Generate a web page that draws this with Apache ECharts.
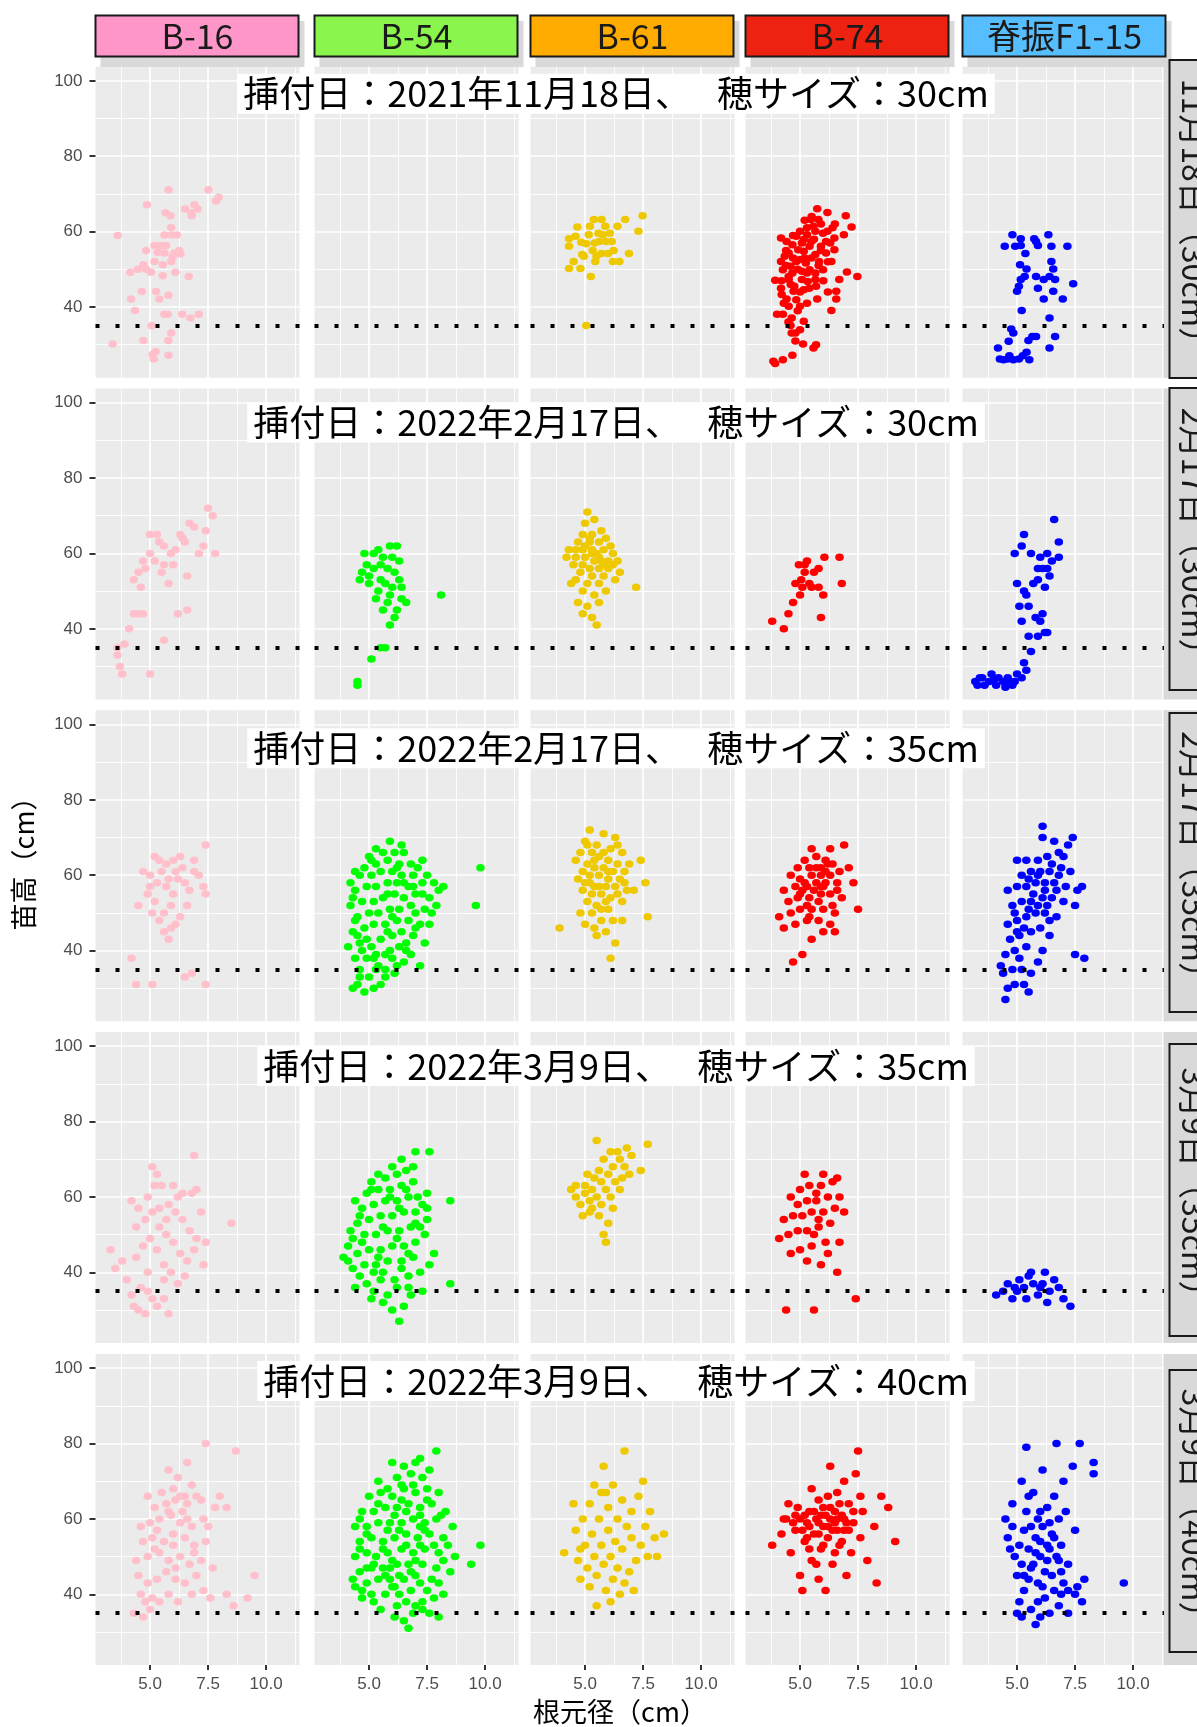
<!DOCTYPE html>
<html>
<head>
<meta charset="utf-8">
<script src="https://cdn.jsdelivr.net/npm/echarts@6/dist/echarts.min.js"></script>
<style>
  html, body { margin: 0; padding: 0; background: #fff; }
  #chart { width: 1197px; height: 1727px; }
</style>
</head>
<body>
<div id="chart"></div>
<script>
// facets
const cultivars = ["B-16", "B-54", "B-61", "B-74", "脊振F1-15"];
const rowLabels = ["11月18日（30cm）", "2月17日（30cm）", "2月17日（35cm）", "3月9日（35cm）", "3月9日（40cm）"];
const rowTitles = [
  "挿付日：2021年11月18日、　 穂サイズ：30cm",
  "挿付日：2022年2月17日、　 穂サイズ：30cm",
  "挿付日：2022年2月17日、　 穂サイズ：35cm",
  "挿付日：2022年3月9日、　 穂サイズ：35cm",
  "挿付日：2022年3月9日、　 穂サイズ：40cm",
];
const pointColors = ["#FFC0CB", "#00FF00", "#EEC900", "#FF0000", "#0000FF"];
const stripColors = ["#FF96CA", "#8AF54C", "#FFAB00", "#EE2211", "#56BEFF"];

// axes
const xRange = [2.65, 11.44];
const yRange = [21.25, 103.75];
const xMajor = [5, 7.5, 10];
const xMinor = [3.75, 6.25, 8.75, 11.25];
const yMajor = [40, 60, 80, 100];
const yMinor = [30, 50, 70, 90];
const cutoff = 35;

// [根元径, 苗高]
const r1_b16 = [[3.39,30.2],[3.61,59.0],[4.15,49.2],[4.18,42.1],[4.35,39.1],[4.47,50.0],[4.64,44.1],[4.71,51.2],[4.71,31.1],[4.83,50.0],[4.87,67.1],[4.83,55.0],[5.04,49.2],[5.07,35.0],[5.11,27.4],[5.16,26.2],[5.24,28.2],[5.19,56.3],[5.19,52.1],[5.26,44.1],[5.33,54.5],[5.40,42.1],[5.47,56.3],[5.55,48.3],[5.55,51.2],[5.62,59.1],[5.62,38.1],[5.62,54.3],[5.69,56.3],[5.66,65.0],[5.76,38.1],[5.79,43.1],[5.80,71.1],[5.79,31.1],[5.79,27.2],[5.88,64.2],[5.91,61.1],[5.91,52.1],[5.93,59.1],[5.91,33.1],[5.98,53.4],[6.05,54.3],[6.09,49.2],[6.16,59.1],[6.26,55.0],[6.31,54.1],[6.38,38.1],[6.51,66.0],[6.67,48.1],[6.74,37.1],[6.77,65.0],[6.80,64.2],[6.91,67.1],[7.05,66.0],[7.10,38.1],[7.51,71.1],[7.84,68.1],[7.96,69.1]];
const r1_b54 = [];
const r1_b61 = [[4.31,58.1],[4.31,56.1],[4.31,50.2],[4.51,52.1],[4.67,61.2],[4.80,50.2],[4.84,57.2],[4.88,53.9],[5.05,56.8],[5.05,35.1],[5.16,59.2],[5.21,61.4],[5.25,48.1],[5.38,63.2],[5.41,57.0],[5.44,52.1],[5.49,53.5],[5.61,57.4],[5.71,63.2],[5.71,54.2],[5.77,59.2],[5.87,61.4],[5.90,57.4],[5.99,54.2],[6.07,59.6],[6.20,52.1],[6.23,55.0],[6.40,61.4],[6.48,52.1],[6.73,63.2],[6.89,54.2],[7.30,60.1],[7.48,64.2],[4.59,58.8],[5.58,59.6],[5.33,55.0],[4.95,53.5],[6.15,57.4]];
const r1_b74 = [[3.85,25.6],[3.93,25.0],[4.26,26.0],[4.67,27.2],[5.13,30.2],[5.58,29.1],[5.69,30.0],[4.64,33.1],[4.80,33.1],[4.59,35.1],[4.64,37.1],[5.16,36.2],[4.01,38.1],[4.26,38.1],[4.51,40.2],[5.00,40.2],[4.42,42.1],[4.84,41.9],[4.21,43.3],[4.72,44.2],[4.18,45.0],[5.16,44.6],[3.93,47.1],[4.51,47.3],[5.08,47.3],[5.69,45.5],[5.66,47.3],[5.74,42.1],[6.56,42.1],[6.56,44.2],[6.69,47.3],[6.35,39.1],[7.02,49.3],[7.47,48.1],[4.26,49.9],[4.67,49.0],[5.41,49.9],[5.99,49.9],[4.18,52.1],[4.84,52.1],[5.25,51.7],[5.82,52.1],[6.35,52.1],[4.51,54.3],[5.16,54.8],[5.66,53.9],[6.12,54.3],[6.48,55.2],[4.67,56.5],[5.08,57.0],[5.49,57.4],[6.12,57.4],[4.18,58.3],[4.84,58.8],[5.30,59.2],[5.66,60.1],[6.18,60.1],[6.48,58.3],[6.89,59.2],[7.22,61.2],[5.58,61.4],[5.79,63.2],[5.46,63.2],[5.74,66.1],[6.18,65.1],[6.97,64.2],[4.51,48.1],[5.00,52.6],[5.41,56.1],[4.34,53.5],[4.75,45.5],[5.33,46.8],[4.92,55.2],[5.16,57.9],[5.49,53.0],[5.90,56.1],[4.59,50.8],[5.08,49.5],[5.66,49.0],[4.42,57.4],[5.00,60.1],[5.99,59.6],[4.4,55],[4.7,53],[5.2,53],[5.6,58],[5.9,55],[6.3,57],[4.9,50],[5.3,49],[5.8,51],[6.2,52],[4.4,51],[4.7,59],[5.3,61],[5.9,62],[6.4,61],[4.6,46],[5.0,44],[5.4,45],[4.3,41],[4.9,39],[5.3,41],[4.5,36],[5.0,34],[4.8,31],[6.0,47],[6.2,44],[5.5,64],[6.5,62],[5.2,63],[4.2,47]];
const r1_f15 = [[4.18,29.1],[4.26,26.2],[4.42,26.0],[4.59,26.2],[4.67,27.1],[4.84,26.0],[5.08,26.2],[5.25,27.1],[5.41,28.0],[5.53,26.0],[4.64,30.9],[4.84,33.1],[4.75,34.2],[5.49,31.1],[5.66,32.2],[5.82,32.2],[6.40,29.1],[6.64,32.2],[6.40,37.1],[5.20,39.1],[6.15,42.1],[6.97,42.1],[5.00,44.2],[5.08,45.5],[5.90,45.0],[6.56,44.2],[5.16,47.3],[5.33,48.1],[5.82,48.1],[6.15,47.3],[6.40,48.1],[6.64,47.3],[7.42,46.2],[5.41,50.1],[6.56,50.1],[5.13,51.2],[6.48,52.1],[5.36,54.2],[4.47,56.1],[4.92,56.1],[5.16,56.3],[5.90,56.3],[6.48,56.1],[7.17,56.1],[4.80,59.2],[5.16,58.1],[5.74,58.1],[6.35,59.2],[5.82,57.4]];

const r2_b16 = [[3.6,33],[3.7,30],[3.8,28],[3.6,35],[3.9,36],[4.1,40],[4.3,44],[4.5,44],[4.7,44],[4.3,53],[4.5,55],[4.6,51],[4.8,56],[4.7,58],[5.0,60],[5.2,58],[5.0,65],[5.3,65],[5.4,63],[5.5,55],[5.6,57],[5.6,62],[5.8,52],[5.9,60],[6.0,57],[6.1,61],[6.3,65],[6.4,64],[6.5,63],[6.6,54],[6.7,68],[6.9,67],[7.1,60],[7.3,62],[7.4,66],[7.5,72],[7.7,70],[7.8,60],[6.2,44],[5.6,37],[5.0,28],[6.6,45]];
const r2_b54 = [[4.5,25],[4.5,26],[5.1,32],[5.5,35],[5.7,35],[5.9,41],[6.1,43],[6.2,45],[6.6,47],[6.4,48],[5.8,47],[5.4,50],[5.0,52],[4.6,53],[4.7,55],[5.2,56],[5.5,57],[5.8,56],[6.1,55],[6.3,58],[6.0,59],[5.6,59],[5.2,60],[4.8,60],[5.4,61],[5.9,62],[6.2,62],[5.0,54],[5.7,52],[6.0,51],[5.3,48],[5.9,49],[6.3,53],[4.9,57],[5.5,53],[6.4,51],[5.6,45],[8.1,49]];
const r2_b61 = [[5.1,71],[5.4,69],[5.0,68],[5.7,66],[4.9,65],[5.3,65],[5.9,64],[4.7,63],[5.2,63],[5.6,63],[6.1,62],[4.3,61],[4.6,61],[4.9,61],[5.3,61],[5.5,60],[5.8,61],[6.2,60],[4.2,59],[4.6,59],[5.0,59],[5.4,58],[5.7,58],[6.0,58],[6.4,58],[4.5,57],[4.9,57],[5.2,56],[5.6,56],[6.0,56],[5.3,60],[5.6,59],[5.0,62],[4.8,55],[5.3,54],[5.8,54],[6.5,55],[4.6,53],[5.1,52],[5.6,52],[4.9,50],[5.4,49],[5.9,50],[7.2,51],[4.7,47],[5.1,46],[5.6,47],[4.9,44],[5.3,43],[5.5,41],[6.3,53],[4.4,52],[5.8,57],[5.2,64],[6.2,57]];
const r2_b74 = [[3.8,42],[4.3,40],[4.5,44],[4.7,47],[4.8,52],[5.0,49],[5.2,55],[4.95,57],[5.3,58],[5.2,57],[5.8,56],[5.8,51],[6.0,49],[5.9,43],[6.05,59],[6.8,52],[6.7,59],[5.4,52],[5.05,53],[5.6,55],[5.5,51],[5.1,51]];
const r2_f15 = [[3.2,26],[3.3,25],[3.5,27],[3.6,25],[3.8,26],[3.9,28],[4.1,25],[4.2,27],[4.4,26],[4.5,24.5],[4.6,27],[4.8,25],[4.9,26],[5.0,28],[5.2,27],[5.4,29],[3.4,27],[4.0,26.5],[4.7,26],[5.3,31],[5.6,34],[5.5,38],[5.9,38],[6.2,39],[5.2,42],[5.8,43],[6.0,42],[6.3,39],[5.1,46],[5.5,46],[6.1,44],[5.3,50],[5.0,52],[5.7,52],[6.2,51],[6.4,54],[5.9,56],[6.3,56],[6.5,58],[4.9,60],[5.6,60],[6.0,59],[6.3,60],[6.8,59],[6.1,56],[6.8,63],[5.2,62],[5.3,65],[6.6,69],[5.9,53],[5.4,49]];

const r3_b16 = [[4.2,38],[4.4,31],[5.1,31],[6.8,34],[7.4,31],[6.5,33],[4.5,52],[4.9,55],[5.1,50],[5.2,53],[5.4,48],[5.6,45],[5.8,43],[5.6,50],[5.9,52],[6.0,55],[5.7,57],[5.3,58],[5.0,60],[5.5,61],[6.2,59],[6.5,58],[6.7,56],[6.9,61],[7.1,60],[7.3,57],[6.4,62],[6.0,64],[5.4,64],[5.7,63],[5.2,65],[6.3,65],[6.9,64],[7.4,68],[5.0,57],[4.7,61],[6.1,61],[5.8,59],[6.6,52],[7.4,55],[6.3,49],[5.9,46],[6.1,47]];
const r3_b54 = [[4.3,30],[4.5,31],[4.8,29],[5.2,30],[5.5,31],[5.0,33],[4.6,35],[5.7,35],[6.1,34],[6.5,37],[4.4,38],[4.9,38],[5.3,39],[5.9,40],[6.3,41],[6.8,39],[7.2,36],[4.6,42],[5.1,41],[5.5,43],[6.0,44],[6.4,45],[6.9,44],[4.3,45],[4.8,46],[5.2,47],[5.7,47],[6.2,48],[6.7,48],[7.2,47],[4.5,49],[5.0,50],[5.4,50],[5.9,51],[6.3,51],[6.8,52],[7.4,51],[4.2,52],[4.7,53],[5.2,53],[5.6,54],[6.1,55],[6.5,54],[7.0,55],[7.6,54],[4.4,56],[4.9,57],[5.3,57],[5.8,58],[6.2,58],[6.7,57],[7.3,58],[8.0,56],[4.6,60],[5.1,60],[5.5,61],[6.0,61],[6.4,60],[6.9,60],[7.5,60],[5.3,63],[5.8,64],[6.3,63],[6.8,63],[5.6,66],[6.1,66],[5.9,69],[7.1,62],[9.6,52],[9.8,62],[4.9,43],[5.4,36],[6.6,42],[7.7,50],[8.2,57],[5.1,64],[4.4,61],[7.0,50],[6.0,38],[6.5,66],[5.7,33],[4.7,40],[4.6,33],[5.3,35],[6.2,36],[4.1,41],[5.7,39],[6.6,40],[7.4,42],[4.5,44],[5.8,45],[7.0,46],[7.6,47],[4.4,48],[6.0,49],[7.9,52],[4.3,54],[5.8,55],[7.3,55],[4.2,58],[6.5,58],[7.8,58],[4.8,62],[6.2,62],[7.3,64],[5.3,67],[6.4,68],[5.2,38],[6.9,57],[5.0,65]];
const r3_b61 = [[3.9,46],[5.2,72],[5.8,71],[6.3,70],[5.0,69],[5.5,68],[6.1,67],[4.8,66],[5.3,66],[6.6,66],[5.6,65],[6.0,64],[4.6,64],[5.1,63],[6.4,63],[6.9,63],[5.4,62],[5.8,62],[4.9,61],[6.2,61],[6.7,61],[5.2,60],[5.6,60],[6.0,59],[6.5,59],[4.7,59],[5.0,58],[5.4,57],[5.9,57],[6.3,57],[6.8,56],[4.9,56],[5.3,55],[5.7,55],[6.1,54],[6.6,53],[5.1,53],[5.5,52],[6.0,51],[4.8,50],[5.3,50],[5.7,48],[6.2,48],[6.6,48],[5.9,45],[5.5,44],[6.3,42],[6.1,38],[7.7,49],[7.6,58],[7.4,64],[7.1,56],[5.0,47],[5.2,58],[5.6,57],[6.0,61],[5.4,64],[5.8,66],[5.9,53],[5.4,46],[6.4,55],[5.1,68],[6.4,68],[5.7,51],[6.7,58]];
const r3_b74 = [[4.7,37],[5.1,39],[5.5,43],[6.0,45],[6.5,45],[4.3,46],[4.8,47],[5.3,48],[5.8,48],[4.1,49],[4.6,50],[5.0,51],[5.5,51],[6.0,51],[6.4,52],[4.5,53],[4.9,54],[5.4,54],[5.9,55],[6.3,55],[6.8,54],[4.3,56],[4.8,57],[5.3,57],[5.7,58],[6.1,58],[6.6,58],[5.0,59],[5.5,60],[5.9,60],[6.3,60],[4.9,62],[5.4,62],[5.9,62],[6.4,63],[5.2,64],[5.7,65],[6.1,64],[5.5,67],[6.3,67],[6.9,68],[7.3,58],[7.1,62],[7.5,51],[6.7,61],[5.9,57],[5.1,56],[4.6,60],[6.3,47],[5.2,58],[5.6,56],[6.0,57],[5.7,62],[6.1,61],[5.3,52],[5.8,53],[6.6,56],[5.0,55],[6.2,63],[5.4,49],[6.5,50]];
const r3_f15 = [[4.5,27],[4.6,30],[4.9,31],[5.3,31],[5.5,29],[4.4,34],[4.8,35],[5.2,35],[5.6,34],[5.9,37],[6.1,40],[4.5,39],[4.9,40],[5.4,41],[4.7,43],[5.1,44],[5.6,45],[6.0,46],[6.4,44],[4.6,47],[5.0,48],[5.4,49],[5.8,50],[6.2,50],[6.7,49],[4.8,52],[5.2,53],[5.6,53],[6.1,54],[6.5,54],[7.0,53],[4.6,56],[5.0,57],[5.4,57],[5.8,58],[6.2,58],[6.6,58],[7.1,57],[5.2,60],[5.6,61],[6.0,61],[6.4,61],[6.9,62],[7.3,61],[5.4,64],[5.9,64],[6.3,65],[6.8,66],[5.0,64],[6.6,69],[7.2,68],[7.4,70],[6.1,73],[7.6,56],[7.5,52],[7.8,57],[7.9,38],[7.5,39],[4.3,36],[5.1,38],[6.4,48],[5.7,55],[5.0,45],[5.5,51],[5.9,52],[6.3,52],[6.7,56],[5.5,59],[5.9,60],[6.8,60],[4.9,50],[6.5,63],[6.1,70],[7.0,65],[5.3,46],[6.2,56]];

const r4_b16 = [[3.3,46],[3.5,41],[3.8,43],[4.0,38],[4.2,34],[4.3,31],[4.5,30],[4.8,29],[4.6,36],[4.9,40],[5.1,33],[5.3,31],[5.6,33],[5.8,29],[4.4,44],[4.7,47],[5.0,49],[5.3,46],[5.6,42],[5.9,40],[6.2,37],[6.5,39],[4.4,52],[4.8,54],[5.1,56],[5.4,52],[5.7,50],[6.0,48],[6.3,45],[6.6,43],[6.9,46],[4.5,57],[4.9,60],[5.2,63],[5.5,63],[5.8,58],[6.1,56],[6.4,54],[6.7,51],[7.0,49],[5.1,68],[5.3,66],[6.0,63],[6.4,61],[6.8,61],[6.9,71],[7.2,56],[7.4,48],[7.3,42],[8.5,53],[5.7,54],[4.2,59],[5.6,38],[4.9,35],[7.0,62],[6.2,60],[5.4,57]];
const r4_b54 = [[6.3,27],[6.0,30],[5.6,32],[6.5,31],[5.1,33],[6.8,34],[7.3,35],[8.5,37],[4.4,36],[4.9,37],[5.5,38],[6.1,38],[6.7,39],[7.2,40],[4.3,41],[4.8,42],[5.3,42],[5.8,43],[6.4,43],[6.9,44],[4.5,45],[5.0,46],[5.5,46],[6.0,47],[6.5,47],[7.0,48],[4.3,49],[4.8,50],[5.3,50],[5.8,51],[6.3,51],[6.8,52],[7.2,52],[4.5,53],[5.0,54],[5.5,55],[6.0,55],[6.5,56],[7.0,56],[4.7,57],[5.2,58],[5.7,59],[6.2,59],[6.7,60],[7.3,58],[4.9,61],[5.4,62],[5.9,62],[6.4,63],[6.9,64],[5.1,64],[5.7,65],[6.2,66],[6.6,67],[6.9,68],[7.0,72],[7.6,72],[8.5,59],[7.5,54],[7.8,45],[4.1,47],[5.6,40],[6.2,36],[7.5,61],[3.9,44],[4.6,39],[5.2,40],[6.4,41],[7.6,42],[4.1,43],[5.4,44],[6.7,45],[4.7,48],[6.2,49],[7.4,50],[4.2,51],[5.6,52],[7.0,53],[4.6,55],[6.3,57],[7.5,57],[4.4,59],[5.9,60],[7.1,60],[5.1,62],[6.6,62],[5.4,66],[6.0,68],[6.4,70],[5.8,34],[6.7,36],[5.2,35]];
const r4_b61 = [[4.4,62],[4.6,60],[4.8,58],[5.0,61],[5.2,59],[5.0,63],[5.3,62],[5.5,60],[5.7,58],[5.4,65],[5.7,64],[5.9,62],[6.1,60],[5.6,67],[6.0,66],[6.3,64],[6.5,62],[6.2,68],[6.5,70],[6.7,68],[6.9,66],[7.0,71],[6.1,72],[5.8,70],[5.5,75],[6.8,73],[7.4,67],[7.7,74],[6.4,72],[5.2,56],[5.6,55],[6.0,53],[5.8,50],[5.9,48],[4.6,63],[5.1,66],[6.6,65],[5.3,57],[4.9,55],[6.2,57]];
const r4_b74 = [[4.4,30],[5.6,30],[7.4,33],[6.6,40],[5.9,42],[5.3,43],[4.6,45],[5.0,46],[5.5,47],[6.1,48],[6.7,48],[4.1,49],[4.5,50],[4.9,51],[5.3,51],[5.8,52],[6.3,53],[4.3,54],[4.7,55],[5.1,55],[5.5,56],[6.0,56],[6.5,57],[4.9,58],[5.3,59],[5.7,59],[6.2,60],[6.7,60],[5.0,62],[5.4,63],[5.9,63],[6.4,64],[5.2,66],[6.0,66],[6.6,65],[5.7,61],[5.6,50],[6.2,45],[6.9,56],[4.6,60],[5.8,54]];
const r4_f15 = [[4.1,34],[4.4,35],[4.6,37],[4.8,33],[5.0,35],[5.1,38],[5.3,36],[5.4,33],[5.6,40],[5.7,37],[5.9,34],[6.0,36],[6.2,40],[6.3,32],[6.4,35],[6.6,38],[6.8,36],[7.0,33],[7.3,31],[6.1,37],[5.5,39],[4.9,36]];

const r5_b16 = [[4.3,35],[4.7,34],[5.0,36],[5.4,38],[4.6,40],[5.1,39],[5.8,40],[6.2,38],[6.8,40],[7.3,41],[7.6,39],[8.3,40],[8.6,37],[9.2,39],[9.5,45],[4.5,45],[4.9,43],[5.3,44],[5.7,46],[6.1,44],[6.5,43],[7.0,45],[4.4,49],[4.9,50],[5.4,51],[5.8,49],[6.3,50],[6.7,48],[7.2,49],[7.7,47],[4.7,54],[5.1,55],[5.6,54],[6.0,56],[6.5,55],[6.9,53],[7.4,54],[4.6,58],[5.0,59],[5.4,60],[5.9,61],[6.3,59],[6.8,58],[7.3,60],[7.8,63],[5.2,63],[5.7,64],[6.1,65],[6.6,64],[7.0,66],[5.5,67],[6.0,68],[6.5,66],[7.2,65],[8.0,66],[6.2,71],[5.8,73],[6.8,69],[7.4,80],[8.7,78],[6.6,75],[8.3,63],[4.9,66],[6.4,62],[5.3,57],[6.9,51],[5.8,62],[6.3,66],[6.0,53],[5.2,52],[6.6,60],[7.5,58],[6.1,47],[4.8,38]];
const r5_b54 = [[6.7,31],[6.5,33],[6.9,35],[7.6,35],[8.0,34],[5.5,36],[6.2,37],[7.0,37],[7.3,38],[4.7,39],[5.1,40],[5.7,40],[6.3,40],[6.8,41],[7.5,41],[8.2,40],[4.4,42],[4.9,43],[5.4,44],[5.9,44],[6.5,44],[7.0,45],[7.7,44],[4.6,46],[5.1,47],[5.6,47],[6.2,48],[6.7,48],[7.3,48],[7.9,47],[8.5,46],[9.4,48],[4.4,50],[4.9,51],[5.3,50],[5.8,51],[6.4,52],[6.9,51],[7.4,52],[8.0,51],[8.7,50],[4.6,54],[5.1,55],[5.6,54],[6.1,55],[6.6,56],[7.1,55],[7.6,56],[8.2,55],[9.8,53],[4.4,58],[4.9,58],[5.4,59],[5.9,59],[6.4,59],[6.9,60],[7.4,59],[7.9,60],[8.6,58],[4.7,62],[5.2,62],[5.7,63],[6.2,63],[6.7,64],[7.2,63],[7.7,64],[8.3,62],[5.0,66],[5.5,67],[6.0,66],[6.5,68],[7.0,67],[7.5,68],[8.0,67],[5.4,70],[6.2,71],[6.8,72],[7.3,71],[6.5,74],[7.0,75],[7.9,78],[6.4,69],[5.8,57],[6.3,45],[7.8,53],[6.0,42],[6.6,62],[5.2,48],[7.2,58],[6.1,34],[7.3,36],[5.2,38],[6.6,38],[7.8,39],[4.7,41],[6.1,42],[7.2,43],[8.0,43],[4.3,44],[5.7,45],[6.8,46],[4.9,47],[6.0,49],[7.0,49],[8.2,49],[4.6,52],[5.6,52],[7.2,53],[8.4,53],[4.9,56],[6.3,57],[7.4,57],[4.6,60],[6.1,61],[7.2,61],[8.1,61],[5.4,64],[6.4,65],[7.5,65],[5.8,68],[6.9,69],[7.6,73],[6.0,75],[7.2,76],[5.9,47],[6.6,53]];
const r5_b61 = [[4.1,51],[4.5,64],[4.6,57],[4.7,49],[4.8,44],[4.9,60],[5.0,53],[5.1,47],[5.2,42],[5.2,64],[5.3,56],[5.4,50],[5.5,37],[5.5,45],[5.6,60],[5.7,53],[5.7,67],[5.8,48],[5.9,41],[6.0,57],[6.0,63],[6.1,50],[6.2,44],[6.2,69],[6.3,54],[6.4,47],[6.4,60],[6.5,40],[6.6,65],[6.6,52],[6.7,78],[6.8,58],[6.9,46],[7.0,55],[7.0,62],[7.2,49],[7.3,66],[7.4,53],[7.5,70],[7.6,58],[7.7,50],[7.8,62],[8.0,55],[8.4,56],[8.1,50],[5.8,74],[4.8,52],[5.4,69],[6.7,43],[7.1,41],[6.1,38],[5.9,67]];
const r5_b74 = [[3.8,53],[4.2,56],[4.4,60],[4.6,51],[4.8,57],[4.9,63],[5.0,45],[5.1,41],[5.2,54],[5.3,59],[5.4,62],[5.5,49],[5.6,56],[5.7,60],[5.8,44],[5.8,65],[5.9,52],[6.0,58],[6.1,61],[6.1,41],[6.2,55],[6.3,63],[6.4,48],[6.5,59],[6.6,67],[6.7,53],[6.8,61],[6.9,57],[7.0,45],[7.1,64],[7.2,51],[7.3,59],[7.4,72],[7.5,78],[7.6,55],[7.7,62],[7.9,49],[8.2,58],[8.5,66],[8.8,63],[9.1,54],[8.3,43],[6.3,74],[6.9,70],[5.5,68],[4.7,59],[5.0,60],[5.9,61],[6.4,57],[5.3,55],[6.6,60],[7.0,59],[5.7,48],[6.2,66],[4.5,64],[5.4,58],[5.8,59],[6.2,58],[6.6,57],[5.6,62],[6.0,63],[6.5,62],[5.1,57],[5.8,56],[6.3,60],[6.9,60],[5.2,61],[7.1,57],[6.8,54],[4.8,61],[4.3,60],[7.3,62],[6.0,53],[6.5,51],[5.4,52],[7.6,66],[6.7,64]];
const r5_f15 = [[4.5,60],[4.6,55],[4.8,64],[4.9,50],[5.0,45],[5.1,38],[5.0,35],[5.2,34],[5.3,41],[5.3,57],[5.4,79],[5.4,62],[5.5,52],[5.6,47],[5.6,36],[5.7,67],[5.8,55],[5.9,43],[5.9,60],[6.0,50],[6.0,34],[6.1,73],[6.1,58],[6.2,46],[6.2,39],[6.3,63],[6.3,53],[6.4,35],[6.5,56],[6.5,45],[6.6,66],[6.6,41],[6.7,80],[6.7,50],[6.8,60],[6.8,37],[6.9,53],[7.0,70],[7.0,43],[7.1,62],[7.2,35],[7.2,48],[7.4,74],[7.5,40],[7.5,57],[7.6,42],[7.7,80],[7.8,38],[7.9,44],[8.3,72],[8.3,75],[9.6,43],[5.2,70],[5.7,48],[6.4,52],[6.0,54],[5.5,66],[4.7,52],[6.9,46],[5.8,32],[5.2,48],[5.6,58],[6.0,62],[6.3,49],[6.6,55],[5.5,44],[6.1,42],[5.8,51],[6.8,49],[5.1,53],[4.8,58],[6.4,59],[5.3,45],[5.9,38],[6.9,40],[7.2,41]];

const panels = [
  [r1_b16, r1_b54, r1_b61, r1_b74, r1_f15],
  [r2_b16, r2_b54, r2_b61, r2_b74, r2_f15],
  [r3_b16, r3_b54, r3_b61, r3_b74, r3_f15],
  [r4_b16, r4_b54, r4_b61, r4_b74, r4_f15],
  [r5_b16, r5_b54, r5_b61, r5_b74, r5_f15],
];

// layout (px)
const colLeft = [95.5, 314.5, 530.5, 745.5, 962.5];
const rowTop = [66.7, 388.5, 710.3, 1032, 1354];
const panelW = 204;
const panelH = 311;
const rowStripY = [[60, 378], [388, 690], [713, 1012], [1044, 1336], [1370, 1652]];
const titleOffset = [27, 34, 38, 34, 27];

const chart = echarts.init(document.getElementById("chart"));

const tickFont = { fontFamily: "Liberation Sans", fontSize: 17, color: "#4D4D4D" };
const tickLine = { color: "#333333", width: 2 };

const grids = [], xAxes = [], yAxes = [], series = [];

for (let r = 0; r < 5; r++) {
  for (let c = 0; c < 5; c++) {
    const k = r * 5 + c;
    grids.push({
      left: colLeft[c], top: rowTop[r], width: panelW, height: panelH,
      show: true, backgroundColor: "#EBEBEB", borderWidth: 0,
      outerBoundsMode: "none",
    });
    // major x
    xAxes.push({
      gridIndex: k, type: "value", min: xRange[0], max: xRange[1], position: "bottom",
      axisLine: { show: false },
      axisTick: { show: r === 4, customValues: xMajor, length: 5, lineStyle: tickLine },
      axisLabel: { show: r === 4, customValues: xMajor, margin: 11, formatter: (v) => v.toFixed(1), ...tickFont },
      splitLine: { show: true, lineStyle: { color: "#FFFFFF", width: 1.7 } },
    });
    // minor x
    xAxes.push({
      gridIndex: k, type: "value", min: xRange[0], max: xRange[1], position: "top",
      axisLine: { show: false },
      axisTick: { show: false, customValues: xMinor },
      axisLabel: { show: false, customValues: xMinor },
      splitLine: { show: true, lineStyle: { color: "#FFFFFF", width: 0.9 } },
    });
    // major y
    yAxes.push({
      gridIndex: k, type: "value", min: yRange[0], max: yRange[1], position: "left",
      axisLine: { show: false },
      axisTick: { show: c === 0, customValues: yMajor, length: 6, lineStyle: tickLine },
      axisLabel: { show: c === 0, customValues: yMajor, margin: 13, ...tickFont },
      splitLine: { show: true, lineStyle: { color: "#FFFFFF", width: 1.7 } },
    });
    // minor y
    yAxes.push({
      gridIndex: k, type: "value", min: yRange[0], max: yRange[1], position: "right",
      axisLine: { show: false },
      axisTick: { show: false, customValues: yMinor },
      axisLabel: { show: false, customValues: yMinor },
      splitLine: { show: true, lineStyle: { color: "#FFFFFF", width: 0.9 } },
    });
    series.push({
      type: "scatter",
      name: cultivars[c] + " " + rowLabels[r],
      xAxisIndex: 2 * k, yAxisIndex: 2 * k,
      data: panels[r][c],
      symbol: "circle", symbolSize: [8.5, 7.5],
      itemStyle: { color: pointColors[c], opacity: 1 },
      silent: true, animation: false,
      markLine: {
        silent: true, symbol: "none", animation: false,
        label: { show: false },
        lineStyle: { color: "#000000", width: 4, type: [4, 16], cap: "butt" },
        emphasis: { disabled: true },
        data: [{ yAxis: cutoff }],
      },
    });
  }
}

const graphics = [];
const cjk = '"Noto Sans CJK JP", "Noto Sans CJK SC", sans-serif';

// column strips
for (let c = 0; c < 5; c++) {
  graphics.push({
    type: "rect", shape: { x: colLeft[c] + 5, y: 21, width: panelW, height: 46 },
    style: { fill: "#D9D9D9" }, z: 10,
  });
  graphics.push({
    type: "rect", shape: { x: colLeft[c], y: 15.5, width: panelW - 1, height: 41 },
    style: { fill: stripColors[c], stroke: "#1A1A1A", lineWidth: 2 }, z: 11,
  });
  graphics.push({
    type: "text", x: colLeft[c] + panelW / 2, y: 36.5, z: 12,
    style: { text: cultivars[c], font: "34px " + cjk, fill: "#1A1A1A", align: "center", verticalAlign: "middle" },
  });
}

// row strips and titles
for (let r = 0; r < 5; r++) {
  const [y0, y1] = rowStripY[r];
  graphics.push({
    type: "rect", shape: { x: 1164, y: rowTop[r], width: 40, height: panelH },
    style: { fill: "#D9D9D9" }, z: 10,
  });
  graphics.push({
    type: "rect", shape: { x: 1169.5, y: y0, width: 40, height: y1 - y0 },
    style: { fill: "#D9D9D9", stroke: "#1A1A1A", lineWidth: 2 }, z: 11,
  });
  graphics.push({
    type: "text", x: 1194, y: (y0 + y1) / 2, rotation: -Math.PI / 2, z: 12,
    style: { text: rowLabels[r], font: "32px " + cjk, fill: "#1A1A1A", align: "center", verticalAlign: "middle" },
  });
  graphics.push({
    type: "text", x: 616, y: rowTop[r] + titleOffset[r], z: 20,
    style: {
      text: rowTitles[r], font: "36px " + cjk, fill: "#000000", align: "center", verticalAlign: "middle",
      backgroundColor: "#FFFFFF", padding: [1, 6, 1, 6], lineHeight: 38,
    },
  });
}

// axis titles
graphics.push({
  type: "text", x: 24, y: 857, rotation: Math.PI / 2, z: 12,
  style: { text: "苗高（cm）", font: "27px " + cjk, fill: "#000000", align: "center", verticalAlign: "middle" },
});
graphics.push({
  type: "text", x: 620, y: 1712, z: 12,
  style: { text: "根元径（cm）", font: "27px " + cjk, fill: "#000000", align: "center", verticalAlign: "middle" },
});

chart.setOption({
  animation: false,
  backgroundColor: "#FFFFFF",
  grid: grids,
  xAxis: xAxes,
  yAxis: yAxes,
  series: series,
  graphic: { elements: graphics },
});
</script>
</body>
</html>
